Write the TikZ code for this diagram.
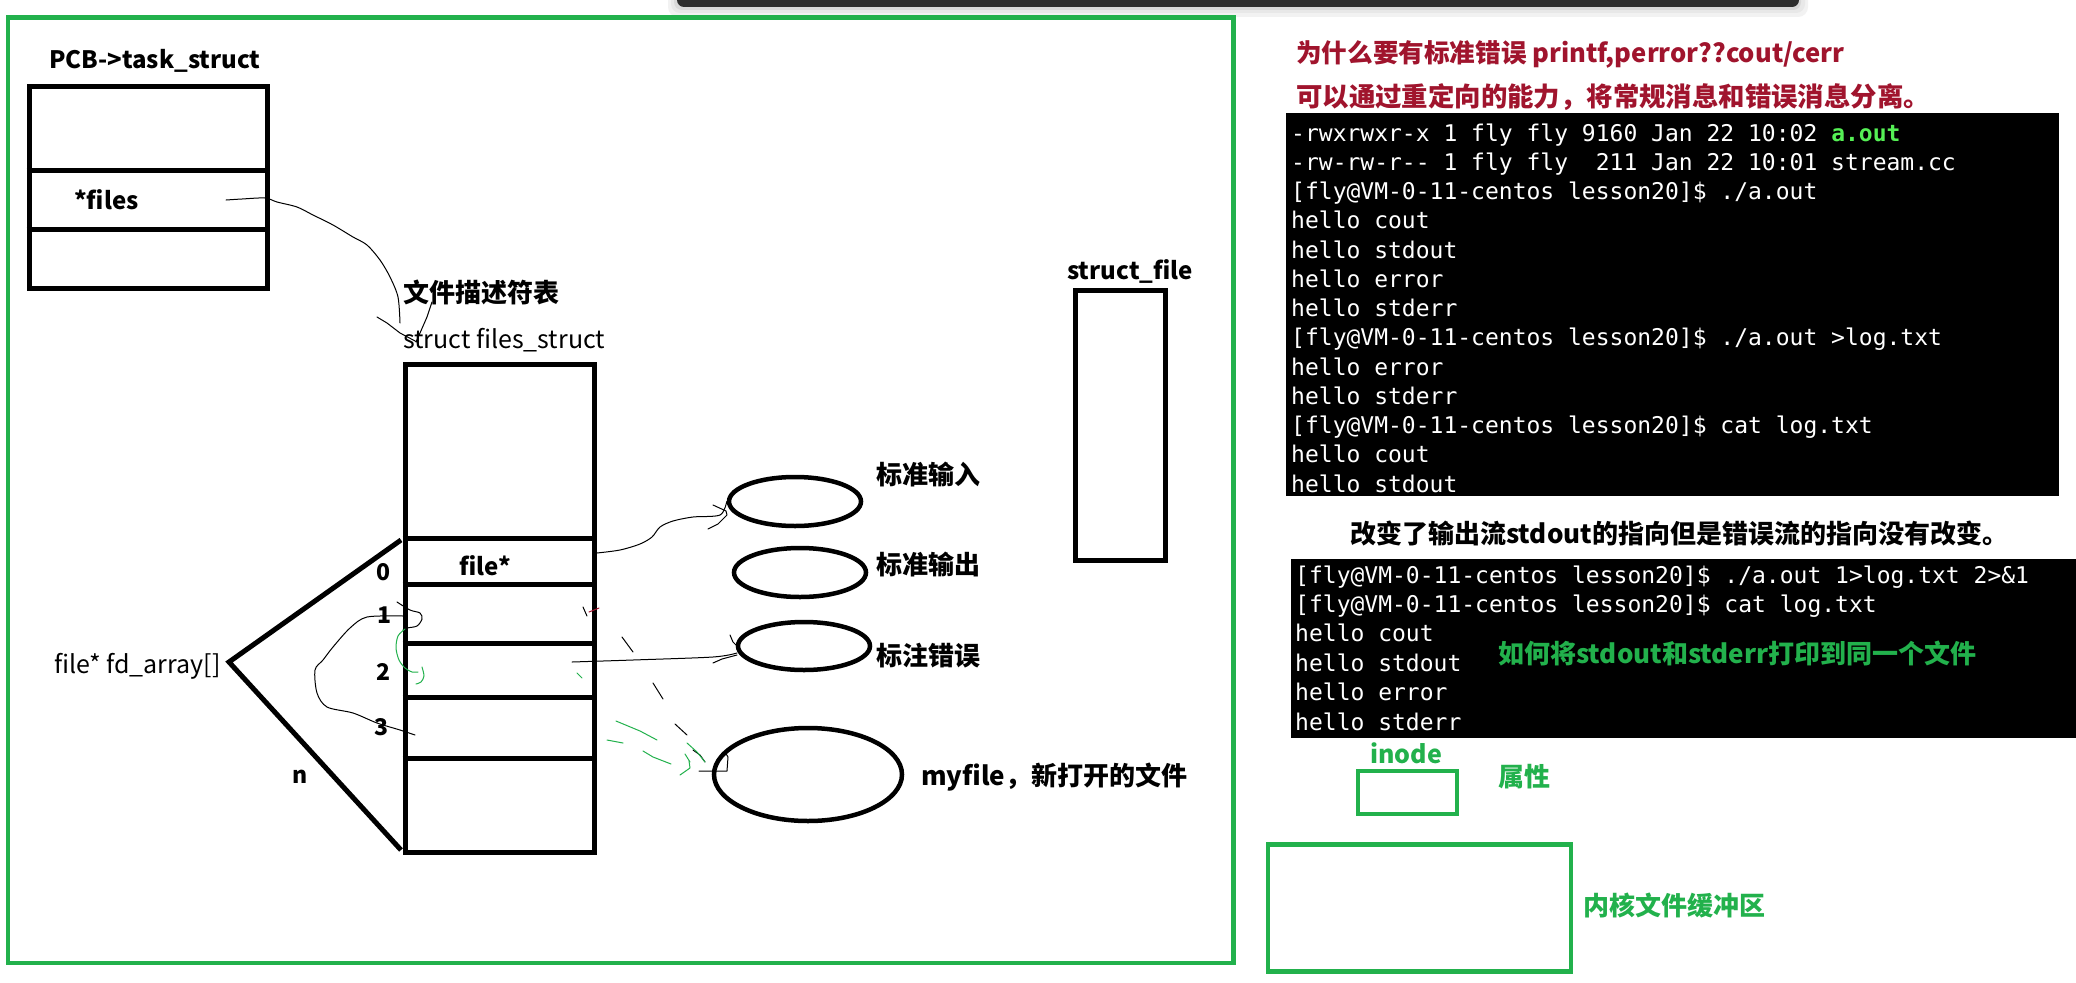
\documentclass[tikz,border=0pt]{standalone}
\usepackage{fontspec}
\setmainfont{Noto Sans CJK SC}
\newfontfamily\mono{DejaVu Sans Mono}[Ligatures=ResetAll]
\usetikzlibrary{shapes.geometric}
\definecolor{pgreen}{HTML}{22B14C}
\definecolor{dred}{HTML}{A0142D}
\definecolor{tgreen}{HTML}{55F055}
\definecolor{barcol}{HTML}{2E2E2E}
\tikzset{
  blk/.style={draw, line width=5pt, inner sep=0pt},
  gbox/.style={draw=pgreen, line width=4.5pt, inner sep=0pt},
  oval/.style={ellipse, draw, line width=4.5pt, inner sep=0pt},
  lb/.style={inner sep=0pt, anchor=base west, font=\bfseries\fontsize{26}{30}\selectfont},
  lr/.style={inner sep=0pt, anchor=base west, font=\fontsize{25}{30}\selectfont},
  term/.style={inner sep=0pt, anchor=base west, text=white, font=\mono\fontsize{23}{28}\selectfont},
  scrib/.style={line width=1pt, line join=round, line cap=round},
  gscrib/.style={scrib, draw=pgreen},
  thickline/.style={line width=5pt, line join=miter},
}
\begin{document}
\begin{tikzpicture}[x=1pt, y=-1pt]
\useasboundingbox (0,0) rectangle (2076,982);
\fill[white] (0,0) rectangle (2076,982);
% top bar with soft shadow
\fill[black!5, rounded corners=10pt] (668,-10) rectangle (1808,17);
\fill[black!9, rounded corners=9pt] (671,-10) rectangle (1805,13);
\fill[black!15, rounded corners=8pt] (674,-10) rectangle (1801,10);
\fill[barcol, rounded corners=7pt] (677,-12) rectangle (1799,7);
% left green frame
\node[gbox, minimum width=1225.5, minimum height=945.5] (frame) at (620.75,490.25) {};
% PCB
\node[lb, font=\bfseries\fontsize{24}{28}\selectfont] (pcbt) at (49,68) {PCB->task\_struct};
\node[blk, minimum width=238, minimum height=202] (pcb) at (148,187) {};
\draw[line width=5pt] (pcb.west |- 0,170.5) -- (pcb.east |- 0,170.5);
\draw[line width=5pt] (pcb.west |- 0,229.5) -- (pcb.east |- 0,229.5);
\node[lb, font=\bfseries\fontsize{24}{28}\selectfont] (files) at (74,209) {*files};
% files_struct
\node[lb] (fdt) at (403,302) {文件描述符表};
\node[lr] (fst) at (403,348) {struct files\_struct};
\node[blk, minimum width=189, minimum height=487.5] (fs) at (499.5,608.25) {};
\foreach \yy in {538.5,584.5,643.5,697.5,758} {
  \draw[line width=5pt] (fs.west |- 0,\yy) -- (fs.east |- 0,\yy);
}
\node[lb, font=\bfseries\fontsize{24}{28}\selectfont] (fptr) at (459,575) {file*};
\node[lb, font=\bfseries\fontsize{23}{28}\selectfont] (n0) at (376,580) {0};
\node[lb, font=\bfseries\fontsize{23}{28}\selectfont] (n1) at (377,623) {1};
\node[lb, font=\bfseries\fontsize{23}{28}\selectfont] (n2) at (376,680) {2};
\node[lb, font=\bfseries\fontsize{23}{28}\selectfont] (n3) at (374,735) {3};
\node[lb, font=\bfseries\fontsize{23}{28}\selectfont] (nn) at (292,783) {n};
\node[lr] (fda) at (54,673) {file* fd\_array[]};
\coordinate (apex) at (229,662);
\coordinate (fdtop) at (401,540);
\coordinate (fdbot) at (401,850);
\draw[thickline] (fdtop) -- (apex) -- (fdbot);
% ellipses
\node[oval, minimum width=132, minimum height=49] (e1) at (795,501.5) {};
\node[oval, minimum width=132, minimum height=49] (e2) at (800,572.5) {};
\node[oval, minimum width=132, minimum height=48] (e3) at (804,646) {};
\node[oval, minimum width=188, minimum height=93] (e4) at (808,774.5) {};
\node[lb] (l1) at (876,484) {标准输入};
\node[lb] (l2) at (876,574) {标准输出};
\node[lb] (l3) at (876,665) {标注错误};
\node[lb] (l4) at (921,785) {myfile，新打开的文件};
% struct_file
\node[lb, font=\bfseries\fontsize{24}{28}\selectfont] (sft) at (1067,279) {struct\_file};
\node[blk, minimum width=90, minimum height=270] (sf) at (1120.5,425.5) {};
% scribbles: *files -> files_struct
\coordinate (filesp) at (226,200);
\draw[scrib] plot[smooth] coordinates {(filesp) (242,199) (265,198) (277,202) (297,207) (313,215) (333,225) (353,237) (367,245) (380,260) (390,277) (398,297) (400,323)};
\draw[scrib] (377,317) -- (387,323) -- (400,333) -- (417,342);
\draw[scrib] (432,302) -- (427,317) -- (420,333) -- (416,342);
% file* -> stdin
\coordinate (row0r) at (597,553);
\draw[scrib] plot[smooth] coordinates {(row0r) (620,550) (640,544) (652,537) (660,527) (673,521) (693,517) (720,515) (e1.west)};
\draw[scrib] (713,505) -- (726,511) -- (727,515) -- (718,524) -- (708,529);
% row2 -> stderr
\coordinate (row2r) at (572,662);
\draw[scrib] plot[smooth] coordinates {(row2r) (633,660) (713,657) (737,653)};
\draw[scrib] (713,663) -- (722,659) -- (737,655);
\draw[scrib] (730,635) -- (733,642) -- (737,646);
% 3 -> 1 loop
\coordinate (row3l) at (415,735);
\draw[scrib] plot[smooth] coordinates {(row3l) (400,730) (377,723) (353,713) (327,707) (317,693) (315,670) (323,660) (333,647) (350,628) (367,617) (403,616)};
\draw[scrib] plot[smooth] coordinates {(397,602) (410,610) (420,613) (422,619) (417,626) (407,628) (403,630)};
\draw[gscrib] plot[smooth] coordinates {(405,629) (398,636) (396,648) (399,660) (405,668) (412,672) (418,672)};
\draw[gscrib] plot[smooth] coordinates {(422,667) (424,676) (421,682) (416,684)};
\draw[gscrib] (577,673) -- (582,678);
\draw[scrib] (583,607) -- (587,616);
\draw[scrib, draw=dred] (589,612) -- (599,608);
% dashes toward myfile
\draw[scrib] (622,637) -- (633,652);
\draw[scrib] (653,683) -- (663,699);
\draw[scrib] (675,724) -- (687,735);
\draw[scrib] (693,750) -- (700,755) -- (705,762);
\draw[gscrib] (616,721) -- (640,731) -- (657,740);
\draw[gscrib] (607,740) -- (623,743);
\draw[gscrib] (643,751) -- (653,757) -- (671,764);
\draw[gscrib] (687,743) -- (697,752) -- (705,762);
\draw[gscrib] (685,754) -- (690,762);
\draw[gscrib] (680,775) -- (690,768) -- (689,761);
\draw[scrib] (699,771) -- (727,771) -- (728,757) -- (725,752);
% right side texts
\node[lb, font=\bfseries\fontsize{25.6}{30}\selectfont, text=dred] (q1) at (1296,63) {为什么要有标准错误 printf,perror??cout/cerr};
\node[lb, font=\bfseries\fontsize{26.4}{30}\selectfont, text=dred] (q2) at (1296,106) {可以通过重定向的能力，将常规消息和错误消息分离。};
% terminal 1
\fill[black] (1286,113) rectangle (2059,496);
\node[term] (t1) at (1291,141) {-rwxrwxr-x 1 fly fly 9160 Jan 22 10:02 \textcolor{tgreen}{\bfseries a.out}};
\node[term] (t2) at (1291,170.25) {-rw-rw-r-{}- 1 fly fly~ 211 Jan 22 10:01 stream.cc};
\node[term] (t3) at (1291,199.5) {[fly@VM-0-11-centos lesson20]\$ ./a.out};
\node[term] (t4) at (1291,228.75) {hello cout};
\node[term] (t5) at (1291,258) {hello stdout};
\node[term] (t6) at (1291,287.25) {hello error};
\node[term] (t7) at (1291,316.5) {hello stderr};
\node[term] (t8) at (1291,345.75) {[fly@VM-0-11-centos lesson20]\$ ./a.out >log.txt};
\node[term] (t9) at (1291,375) {hello error};
\node[term] (t10) at (1291,404.25) {hello stderr};
\node[term] (t11) at (1291,433.5) {[fly@VM-0-11-centos lesson20]\$ cat log.txt};
\node[term] (t12) at (1291,462.75) {hello cout};
\node[term] (t13) at (1291,492) {hello stdout};
% middle caption
\node[lb] (cap) at (1350,543) {改变了输出流stdout的指向但是错误流的指向没有改变。};
% terminal 2
\fill[black] (1291,559) rectangle (2076,738);
\node[term] (u1) at (1295,583) {[fly@VM-0-11-centos lesson20]\$ ./a.out 1>log.txt 2>\&1};
\node[term] (u2) at (1295,612.4) {[fly@VM-0-11-centos lesson20]\$ cat log.txt};
\node[term] (u3) at (1295,641.8) {hello cout};
\node[term] (u4) at (1295,671.2) {hello stdout};
\node[term] (u5) at (1295,700.6) {hello error};
\node[term] (u6) at (1295,730) {hello stderr};
\node[lb, text=pgreen] (how) at (1498,663) {如何将stdout和stderr打印到同一个文件};
% inode & buffer
\node[lb, font=\bfseries\fontsize{25}{30}\selectfont, text=pgreen] (inodet) at (1370,763) {inode};
\node[gbox, minimum width=99, minimum height=43] (inode) at (1407.5,792.5) {};
\node[lb, text=pgreen] (attr) at (1498,786) {属性};
\node[gbox, minimum width=303, minimum height=127] (buf) at (1419.5,908) {};
\node[lb, text=pgreen] (buft) at (1583,915) {内核文件缓冲区};
\end{tikzpicture}
\end{document}
